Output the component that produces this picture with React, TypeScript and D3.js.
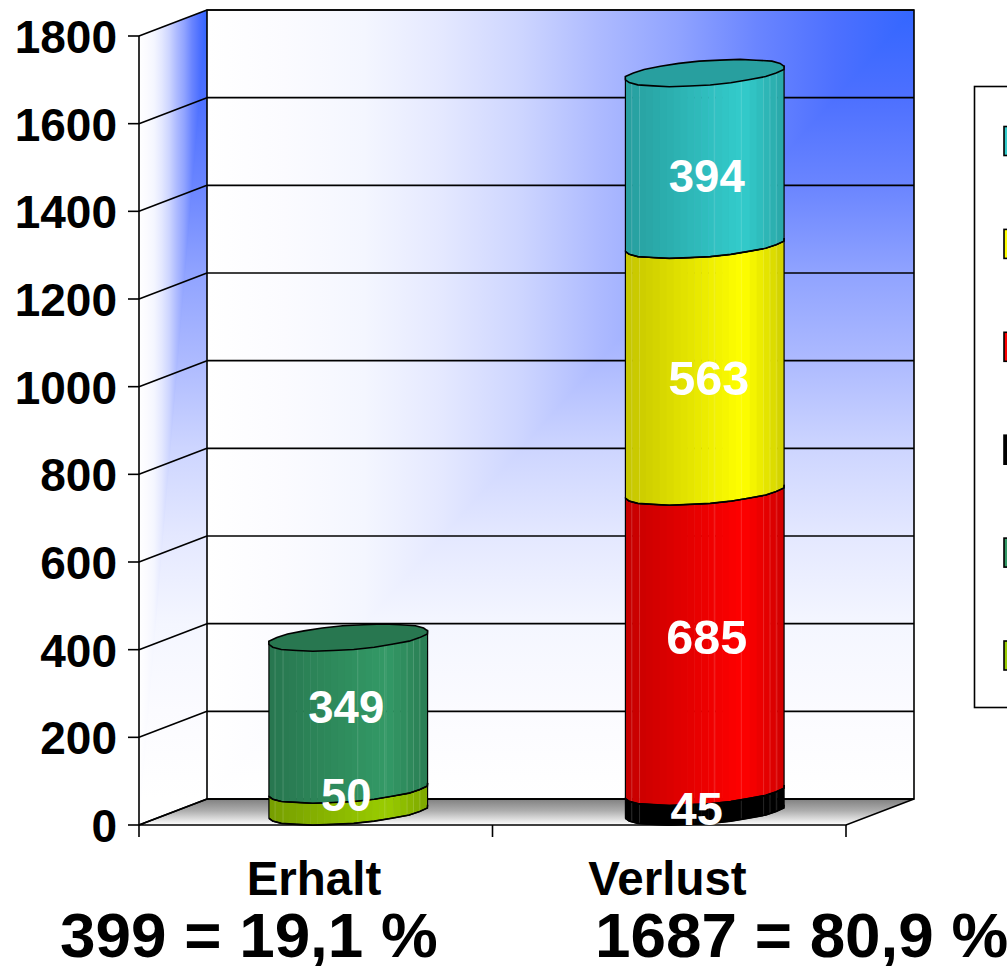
import React from "react";
import * as d3 from "d3";

const categories = ["Erhalt", "Verlust"];
const summaries = ["399 = 19,1 %", "1687 = 80,9 %"];
const yTicks = [0, 200, 400, 600, 800, 1000, 1200, 1400, 1600, 1800];
const erhaltValues = [50, 349];
const verlustValues = [45, 685, 563, 394];
const erhaltColors = ["#99cc00", "#339966"];
const verlustColors = ["#000000", "#ff0000", "#ffff00", "#33cccc"];
const legendColors = ["#33cccc", "#ffff00", "#ff0000", "#000000", "#339966", "#99cc00"];
const wallStops = ["#ffffff", "#fbfbff", "#f4f6ff", "#e4e8ff", "#cdd5ff", "#adbaff", "#90a3ff", "#6a85ff", "#4d70ff", "#3366ff"];

// layout
const W = 1007, H = 966;
const FL = 139, FR = 846, FB = 825, FT = 36;
const DX = 68, DY = 26;
const font = "'Liberation Sans', Arial, sans-serif";
const yFront = d3.scaleLinear().domain([0, 1800]).range([FB, FT]);
const xCat = d3.scaleBand().domain(categories).range([FL, FR]);
const unit = (FB - FT) / 1800;
const erhaltNudge = [10, 10];
const verlustNudge = [23, 12, 27, 34];
const labelDx = [[-2, -2], [-8, 2, 4, 2]];
const labelSize = [[45.5, 45.5], [47, 48.5, 48.5, 45.5]];
const catShift = [32.5, 35.5];
const wobble = [0, 0.9, -0.7, 0.6, 1, -0.6, 0.7, -0.9, 0.8, 0.2, 0, 1, 0, 0.7, 0, 0.5, 0.9, -0.5, 0.6, -0.8, 1, 0.1, 0, 0.8];
const seams = [0.04, 0.09, 0.56, 0.73, 0.87, 0.91, 0.95];

const A = 71.4, BX = 35, BY = 13.5;
const N = wobble.length;
function rim(cx: number, cy: number, i: number): [number, number] {
  const t = (i / N) * 2 * Math.PI;
  const w = 1 + wobble[((i % N) + N) % N] * 0.018;
  return [cx + (A * Math.cos(t) - BX * Math.sin(t)) * w, cy + BY * Math.sin(t) * w];
}

function mix(color: string, k: number) {
  const c = d3.rgb(color);
  return d3.rgb(c.r * k, c.g * k, c.b * k).formatHex();
}
function shadeAt(rel: number) {
  return rel < 0.72 ? 0.78 + (0.22 * rel) / 0.72 : 1 - (0.2 * (rel - 0.72)) / 0.28;
}

function Cylinder({ idx, values, colors, nudge }: { idx: number; values: number[]; colors: string[]; nudge: number[] }) {
  const cx = (xCat(categories[idx]) as number) + xCat.bandwidth() / 2 + catShift[idx];
  const cy0 = FB - BY;
  const half = Math.sqrt(A * A + BX * BX);
  const L = cx - half, R = cx + half;
  const band = 7;
  const front = d3.range(-2, N / 2 - 1);
  let acc = 0;
  const parts: React.ReactNode[] = [];
  const labels: React.ReactNode[] = [];
  values.forEach((v, s) => {
    const yb = cy0 - acc * unit;
    const yt = cy0 - (acc + v) * unit;
    const color = colors[s];
    const fb = front.map((i) => rim(cx, yb, i));
    const ft = front.map((i) => rim(cx, yt, i));
    const dy = yb - yt;
    const outline = [...fb, ...ft.slice().reverse()] as [number, number][];
    const clipId = `c${idx}-${s}`;
    const n = Math.round((R - L) / band);
    const dark = color === "#000000";
    parts.push(
      <g key={clipId}>
        <clipPath id={clipId}><polygon points={outline.map((p) => p.join(",")).join(" ")} /></clipPath>
        <g clipPath={`url(#${clipId})`}>
          {d3.range(n).map((k) => {
            const x0 = L + (k * (R - L)) / n;
            return <rect key={k} x={x0} y={yt - 25} width={(R - L) / n + 0.5} height={dy + 50} fill={mix(color, shadeAt(k / n))} />;
          })}
          {seams.map((f) => (
            <line key={f} x1={L + f * (R - L)} x2={L + f * (R - L)} y1={yt - 25} y2={yb + 25} stroke={dark ? "#444" : "#fff"} strokeOpacity={dark ? 0.7 : 0.2} strokeWidth={0.8} />
          ))}
        </g>
        <polygon points={outline.map((p) => p.join(",")).join(" ")} fill="none" stroke="#000" strokeWidth={1.2} />
        <path d={d3.line()(fb) as string} fill="none" stroke="#000" strokeWidth={1.6} />
      </g>
    );
    labels.push(
      <text key={clipId} x={cx + labelDx[idx][s]} y={(yb + yt) / 2 + nudge[s]} textAnchor="middle" fontFamily={font} fontWeight="bold" fontSize={labelSize[idx][s]} fill="#fff">{v}</text>
    );
    acc += v;
  });
  const topY = cy0 - acc * unit + 1;
  const cap = d3.range(0, N).map((i) => rim(cx, topY, i));
  return (
    <g>
      {parts}
      <polygon points={cap.map((p) => p.join(",")).join(" ")} fill={mix(colors[colors.length - 1], 0.78)} stroke="#000" strokeWidth={1.6} />
      {labels}
    </g>
  );
}

function Stops() {
  return <>{wallStops.map((c, i) => <stop key={i} offset={i / (wallStops.length - 1)} stopColor={c} />)}</>;
}

export default function App() {
  const wl = FL + DX, wr = FR + DX, wt = FT - DY, wb = FB - DY;
  const wall = [[wl, wt], [wr, wt], [wr, wb], [wl, wb]];
  const side = [[FL, FT], [wl, wt], [wl, wb], [FL, FB]];
  const floor = [[FL, FB], [FR, FB], [wr, wb], [wl, wb]];
  const pts = (a: number[][]) => a.map((p) => p.join(",")).join(" ");
  const lw = 1.6;
  return (
    <svg width={W} height={H} viewBox={`0 0 ${W} ${H}`} style={{ position: "absolute", left: 0, top: 0, background: "#fff" }}>
      <defs>
        <linearGradient id="wallU" gradientUnits="userSpaceOnUse" x1={wl} y1={0} x2={wr} y2={0}><Stops /></linearGradient>
        <linearGradient id="wallV" gradientUnits="userSpaceOnUse" x1={0} y1={wb} x2={0} y2={wt}><Stops /></linearGradient>
        <linearGradient id="sideU" gradientUnits="userSpaceOnUse" x1={FL} y1={0} x2={wl} y2={0}><Stops /></linearGradient>
        <linearGradient id="floorG" x1="0" y1="0" x2="0" y2="1">
          <stop offset="0" stopColor="#808080" />
          <stop offset="0.45" stopColor="#adadad" />
          <stop offset="1" stopColor="#ffffff" />
        </linearGradient>
      </defs>

      {/* rectangular gradient: the lighter of the horizontal and vertical ramps */}
      <polygon points={pts(wall)} fill="url(#wallV)" />
      <polygon points={pts([[wl, wt], [wr, wt], [wl, wb]])} fill="url(#wallU)" />
      <polygon points={pts(side)} fill="url(#wallV)" />
      <polygon points={pts([[FL, FT], [wl, wt], [FL, FB]])} fill="url(#sideU)" />
      <polygon points={pts(floor)} fill="url(#floorG)" />

      {yTicks.map((t) => {
        const y = yFront(t);
        return (
          <g key={t}>
            <line x1={wl} x2={wr} y1={y - DY} y2={y - DY} stroke="#000" strokeWidth={lw} />
            <line x1={FL} x2={wl} y1={y} y2={y - DY} stroke="#000" strokeWidth={lw} />
            <line x1={FL - 11} x2={FL} y1={y} y2={y} stroke="#000" strokeWidth={lw} />
            <text x={117} y={y + 17} textAnchor="end" fontFamily={font} fontWeight="bold" fontSize={46} fill="#000">{t}</text>
          </g>
        );
      })}
      <polygon points={pts(wall)} fill="none" stroke="#000" strokeWidth={lw} />
      <line x1={FL} x2={FL} y1={FT} y2={FB} stroke="#000" strokeWidth={lw} />
      <polygon points={pts(floor)} fill="none" stroke="#000" strokeWidth={lw} />
      {[FL, (FL + FR) / 2, FR].map((x) => (
        <line key={x} x1={x} x2={x} y1={FB} y2={FB + 12} stroke="#000" strokeWidth={lw} />
      ))}

      <Cylinder idx={0} values={erhaltValues} colors={erhaltColors} nudge={erhaltNudge} />
      <Cylinder idx={1} values={verlustValues} colors={verlustColors} nudge={verlustNudge} />

      <rect x={974.5} y={86.5} width={60} height={621} fill="#fff" stroke="#000" strokeWidth={lw} />
      {legendColors.map((c, i) => (
        <rect key={c} x={1004} y={126.5 + i * 102.9} width={20} height={29} fill={c} stroke="#000" strokeWidth={lw} />
      ))}

      {categories.map((c, i) => (
        <text key={c} x={[314, 667.5][i]} y={895} textAnchor="middle" fontFamily={font} fontWeight="bold" fontSize={47.5}>{c}</text>
      ))}
      {summaries.map((s, i) => (
        <text key={s} x={[60, 595][i]} y={957} fontFamily={font} fontWeight="bold" fontSize={63.8}>{s}</text>
      ))}
    </svg>
  );
}
